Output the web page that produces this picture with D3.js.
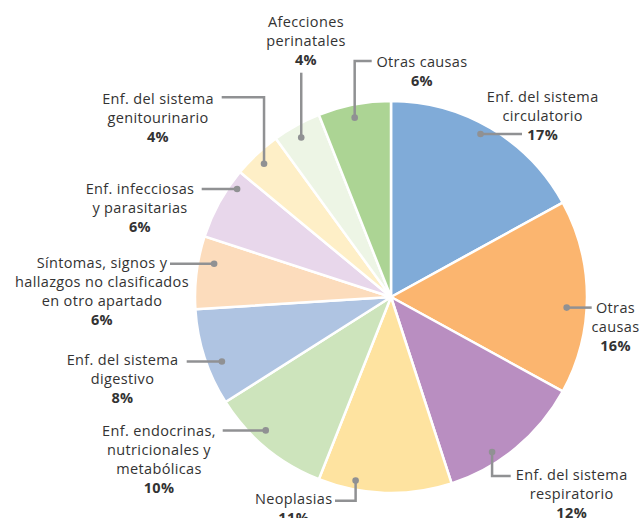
<!DOCTYPE html>
<html lang="es">
  <head>
    <meta charset="UTF-8" />
    <title>Causas de muerte</title>
    <style>
      body { margin: 0; background: #fff; }
      text { font-family: "Open Sans", sans-serif; font-size: 14.5px; letter-spacing: 0.35px; fill: #333; }
      .pct { font-weight: bold; }
    </style>
  </head>
  <body>
    <svg id="svg" width="640" height="518"></svg>

    <script src="https://cdn.jsdelivr.net/npm/d3@7"></script>
    <script>
      // data, clockwise from 12 o'clock
      const categories = [
        ["Enf. del sistema", "circulatorio"],
        ["Otras", "causas"],
        ["Enf. del sistema", "respiratorio"],
        ["Neoplasias"],
        ["Enf. endocrinas,", "nutricionales y", "metabólicas"],
        ["Enf. del sistema", "digestivo"],
        ["Síntomas, signos y", "hallazgos no clasificados", "en otro apartado"],
        ["Enf. infecciosas", "y parasitarias"],
        ["Enf. del sistema", "genitourinario"],
        ["Afecciones", "perinatales"],
        ["Otras causas"]
      ];
      const values = [17, 16, 12, 11, 10, 8, 6, 6, 4, 4, 6];
      const colors = [
        "#80abd8", "#fbb56f", "#b98ec1", "#fee3a0", "#cde4bc", "#afc4e2",
        "#fcdcbc", "#e8d7eb", "#feefc7", "#edf5e5", "#acd494"
      ];

      // hand placed labels: text centre + first baseline, leader end, dot spot in slice
      const layout = [
        { tx: 542.7, ty: 101.5, type: "h", lx: 522, at: 0.47, r: 186 },
        { tx: 615.5, ty: 312.5, type: "h", lx: 591.7, at: 0.56, r: 176 },
        { tx: 571.7, ty: 480, type: "vh", ly: 476, lx: 510.7, at: 0.65, r: 185 },
        { tx: 293.7, ty: 504, type: "vh", ly: 500.7, lx: 335, at: 0.73, r: 187 },
        { tx: 159, ty: 435.5, type: "h", lx: 222.7, at: 0.6, r: 183 },
        { tx: 122.5, ty: 365, type: "h", lx: 186.7, at: 0.4, r: 181 },
        { tx: 102, ty: 268, type: "h", lx: 170, at: 0.66, r: 180 },
        { tx: 140, ty: 194, type: "h", lx: 201.7, at: 0.79, r: 188 },
        { tx: 158, ty: 104, type: "vh", ly: 97.3, lx: 221.7, at: 0.47, r: 184 },
        { tx: 306, ty: 26.5, type: "v", ly: 72.7, at: 0.46, r: 183 },
        { tx: 422, ty: 66.5, type: "vh", ly: 61, lx: 371.7, at: 0.47, r: 183 }
      ];

      const CX = 391, CY = 297, R = 196, LINE = 19;
      const svg = d3.select("#svg");
      const g = svg.append("g").attr("transform", `translate(${CX},${CY})`);

      const pie = d3.pie().sort(null).value((d) => d);
      const arcs = pie(values);
      const arc = d3.arc().innerRadius(0).outerRadius(R);

      g.selectAll("path.slice")
        .data(arcs)
        .enter()
        .append("path")
        .attr("class", "slice")
        .attr("d", arc)
        .attr("fill", (d, i) => colors[i])
        .attr("stroke", "#fff")
        .attr("stroke-width", 2.5)
        .attr("stroke-linejoin", "round");

      function dotPos(d, i) {
        const l = layout[i];
        const a = d.startAngle + (d.endAngle - d.startAngle) * l.at;
        return [CX + l.r * Math.sin(a), CY - l.r * Math.cos(a)];
      }

      const leaders = svg.append("g");
      arcs.forEach((d, i) => {
        const l = layout[i];
        const [x, y] = dotPos(d, i);
        let pts;
        if (l.type === "h") pts = [[x, y], [l.lx, y]];
        else if (l.type === "v") pts = [[x, y], [x, l.ly]];
        else pts = [[x, y], [x, l.ly], [l.lx, l.ly]];
        leaders
          .append("path")
          .attr("d", d3.line()(pts))
          .attr("fill", "none")
          .attr("stroke", "#909193")
          .attr("stroke-width", 2.5);
        leaders
          .append("circle")
          .attr("cx", x)
          .attr("cy", y)
          .attr("r", 3.3)
          .attr("fill", "#909193");
      });

      const labels = svg
        .selectAll("text.lbl")
        .data(arcs)
        .enter()
        .append("text")
        .attr("class", "lbl")
        .attr("text-anchor", "middle")
        .attr("x", (d, i) => layout[i].tx)
        .attr("y", (d, i) => layout[i].ty);

      labels.each(function (d, i) {
        const t = d3.select(this);
        categories[i].forEach((s, k) => {
          t.append("tspan")
            .attr("x", layout[i].tx)
            .attr("dy", k === 0 ? 0 : LINE)
            .text(s);
        });
        t.append("tspan")
          .attr("class", "pct")
          .attr("x", layout[i].tx)
          .attr("dy", LINE)
          .text(values[i] + "%");
      });
    </script>
  </body>
</html>
